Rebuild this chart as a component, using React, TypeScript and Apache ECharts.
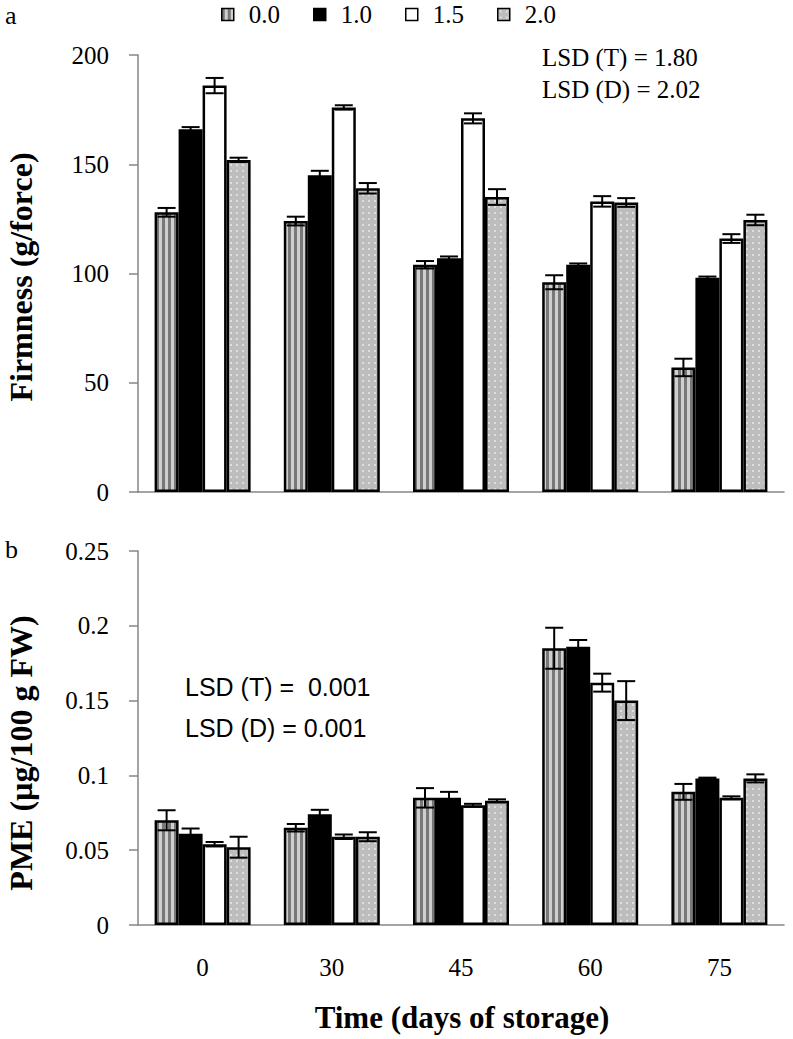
import React, { useEffect, useRef } from 'react';
import * as echarts from 'echarts';

// ---- data ----
const categories = ['0', '30', '45', '60', '75'];
const seriesNames = ['0.0', '1.0', '1.5', '2.0'];

// Panel a: Firmness (g/force)
const firm00 = [128, 124, 104, 96, 57];
const firm10 = [166, 145, 107, 104, 98];
const firm15 = [186, 176, 171, 133, 116];
const firm20 = [152, 139, 135, 132.5, 124.5];
const firmErr00 = [2, 2, 1.7, 3.2, 4];
const firmErr10 = [1, 2, 0.8, 0.6, 0.6];
const firmErr15 = [3.5, 1, 2.3, 2.4, 2];
const firmErr20 = [1, 2.4, 3.6, 2, 2.4];
const firmTicks = [0, 50, 100, 150, 200];

// Panel b: PME (µg/100 g FW)
const pme00 = [0.07, 0.065, 0.085, 0.185, 0.089];
const pme10 = [0.061, 0.074, 0.085, 0.186, 0.098];
const pme15 = [0.054, 0.059, 0.08, 0.162, 0.085];
const pme20 = [0.052, 0.059, 0.083, 0.15, 0.098];
const pmeErr00 = [0.0067, 0.0025, 0.0065, 0.0137, 0.0053];
const pmeErr10 = [0.0035, 0.003, 0.004, 0.0045, 0.0005];
const pmeErr15 = [0.0015, 0.0015, 0.001, 0.006, 0.001];
const pmeErr20 = [0.007, 0.003, 0.001, 0.013, 0.0027];
const pmeTicks = [0, 0.05, 0.1, 0.15, 0.2, 0.25];

const lsdA = ['LSD (T) = 1.80', 'LSD (D) = 2.02'];
const lsdB = ['LSD (T) =  0.001', 'LSD (D) = 0.001'];

const SERIF = '"Liberation Serif", "Times New Roman", serif';
const SANS = '"Liberation Sans", Arial, sans-serif';

function makePattern(kind: string) {
  const c = document.createElement('canvas');
  c.width = 6;
  c.height = 6;
  const ctx = c.getContext('2d')!;
  if (kind === 'stripe') {
    ctx.fillStyle = '#cfcfcf';
    ctx.fillRect(0, 0, 6, 6);
    ctx.fillStyle = '#787878';
    ctx.fillRect(0, 0, 3, 6);
  } else {
    ctx.fillStyle = '#bdbdbd';
    ctx.fillRect(0, 0, 6, 6);
    ctx.fillStyle = '#dedede';
    ctx.fillRect(2, 2, 2, 2);
  }
  return { image: c.toDataURL(), repeat: 'repeat', imageWidth: 6, imageHeight: 6 };
}

export default function App() {
  const ref = useRef<HTMLDivElement>(null);

  useEffect(() => {
    document.body.style.margin = '0';
    if (!ref.current) return;
    const chart = echarts.init(ref.current, null, { renderer: 'svg' });

    const fills: any[] = [makePattern('stripe'), '#000000', '#ffffff', makePattern('dots')];
    const BW = 24;

    const bar = (g: number, i: number, data: number[]) => ({
      type: 'bar',
      name: seriesNames[i],
      xAxisIndex: g,
      yAxisIndex: g,
      data,
      barWidth: BW,
      barGap: '0%',
      itemStyle: { color: fills[i], borderColor: '#000', borderWidth: 2.5 },
    });

    const err = (g: number, i: number, vals: number[], errs: number[]) => ({
      type: 'custom',
      xAxisIndex: g,
      yAxisIndex: g,
      z: 10,
      silent: true,
      data: vals.map((v, k) => [k, v, errs[k]]),
      renderItem: (_p: any, api: any) => {
        const k = api.value(0);
        const v = api.value(1);
        const e = api.value(2);
        const base = api.coord([k, v]);
        const hi = api.coord([k, v + e]);
        const lo = api.coord([k, v - e]);
        const x = base[0] + (i - 1.5) * BW;
        const hw = 9;
        const st = { stroke: '#000', lineWidth: 2 };
        return {
          type: 'group',
          children: [
            { type: 'line', shape: { x1: x, y1: hi[1], x2: x, y2: lo[1] }, style: st },
            { type: 'line', shape: { x1: x - hw, y1: hi[1], x2: x + hw, y2: hi[1] }, style: st },
            { type: 'line', shape: { x1: x - hw, y1: lo[1], x2: x + hw, y2: lo[1] }, style: st },
          ],
        };
      },
    });

    const axisLine = { lineStyle: { color: '#868686', width: 1.5 } };
    const axisTick = { lineStyle: { color: '#868686', width: 1.5 }, length: 9 };
    const tickLabel = { color: '#000', fontFamily: SERIF, fontSize: 25 };

    const firmAll = [firm00, firm10, firm15, firm20];
    const firmErrAll = [firmErr00, firmErr10, firmErr15, firmErr20];
    const pmeAll = [pme00, pme10, pme15, pme20];
    const pmeErrAll = [pmeErr00, pmeErr10, pmeErr15, pmeErr20];

    const series: any[] = [];
    firmAll.forEach((d, i) => series.push(bar(0, i, d)));
    pmeAll.forEach((d, i) => series.push(bar(1, i, d)));
    firmAll.forEach((d, i) => series.push(err(0, i, d, firmErrAll[i])));
    pmeAll.forEach((d, i) => series.push(err(1, i, d, pmeErrAll[i])));

    const option: any = {
      animation: false,
      backgroundColor: '#fff',
      legend: {
        data: seriesNames,
        left: 216,
        top: -3,
        itemWidth: 12,
        itemHeight: 12,
        itemGap: 33,
        icon: 'rect',
        itemStyle: { borderWidth: 1.5, borderColor: '#000' },
        textStyle: { fontFamily: SERIF, fontSize: 25, color: '#000', padding: [0, 0, 0, 10] },
      },
      grid: [
        { left: 138, top: 55, width: 646, height: 437 },
        { left: 138, top: 551, width: 646, height: 374 },
      ],
      xAxis: [0, 1].map((g) => ({
        type: 'category',
        gridIndex: g,
        data: categories,
        boundaryGap: true,
        axisLine,
        axisTick: { ...axisTick, length: 10 },
        axisLabel: { show: g === 1, ...tickLabel, margin: 30 },
        splitLine: { show: false },
      })),
      yAxis: [
        {
          type: 'value',
          gridIndex: 0,
          min: firmTicks[0],
          max: firmTicks[firmTicks.length - 1],
          interval: firmTicks[1] - firmTicks[0],
          axisLine: { show: true, ...axisLine },
          axisTick: { show: true, ...axisTick },
          axisLabel: { ...tickLabel, margin: 29 },
          splitLine: { show: false },
        },
        {
          type: 'value',
          gridIndex: 1,
          min: pmeTicks[0],
          max: pmeTicks[pmeTicks.length - 1],
          interval: pmeTicks[1] - pmeTicks[0],
          axisLine: { show: true, ...axisLine },
          axisTick: { show: true, ...axisTick },
          axisLabel: {
            ...tickLabel,
            margin: 29,
            formatter: (v: number) => String(+v.toFixed(2)),
          },
          splitLine: { show: false },
        },
      ],
      series,
      graphic: [
        { type: 'text', left: 5, top: 2, style: { text: 'a', font: `26px ${SERIF}`, fill: '#000' } },
        { type: 'text', left: 5, top: 536, style: { text: 'b', font: `26px ${SERIF}`, fill: '#000' } },
        {
          type: 'text', x: 21, y: 277, rotation: Math.PI / 2,
          style: { text: 'Firmness (g/force)', font: `bold 32px ${SERIF}`, fill: '#000', textAlign: 'center', textVerticalAlign: 'middle' },
        },
        {
          type: 'text', x: 21, y: 753, rotation: Math.PI / 2,
          style: { text: 'PME (µg/100 g FW)', font: `bold 32px ${SERIF}`, fill: '#000', textAlign: 'center', textVerticalAlign: 'middle' },
        },
        {
          type: 'text', x: 462, y: 1017,
          style: { text: 'Time (days of storage)', font: `bold 31px ${SERIF}`, fill: '#000', textAlign: 'center', textVerticalAlign: 'middle' },
        },
        {
          type: 'text', x: 542, y: 57,
          style: { text: lsdA[0], font: `25px ${SERIF}`, fill: '#000', textAlign: 'left', textVerticalAlign: 'middle' },
        },
        {
          type: 'text', x: 542, y: 89,
          style: { text: lsdA[1], font: `25px ${SERIF}`, fill: '#000', textAlign: 'left', textVerticalAlign: 'middle' },
        },
        {
          type: 'text', x: 185, y: 687,
          style: { text: lsdB[0], font: `25px ${SANS}`, fill: '#000', textAlign: 'left', textVerticalAlign: 'middle' },
        },
        {
          type: 'text', x: 185, y: 728,
          style: { text: lsdB[1], font: `25px ${SANS}`, fill: '#000', textAlign: 'left', textVerticalAlign: 'middle' },
        },
      ],
    };

    chart.setOption(option);
    return () => chart.dispose();
  }, []);

  return <div ref={ref} style={{ width: 793, height: 1039 }} />;
}
